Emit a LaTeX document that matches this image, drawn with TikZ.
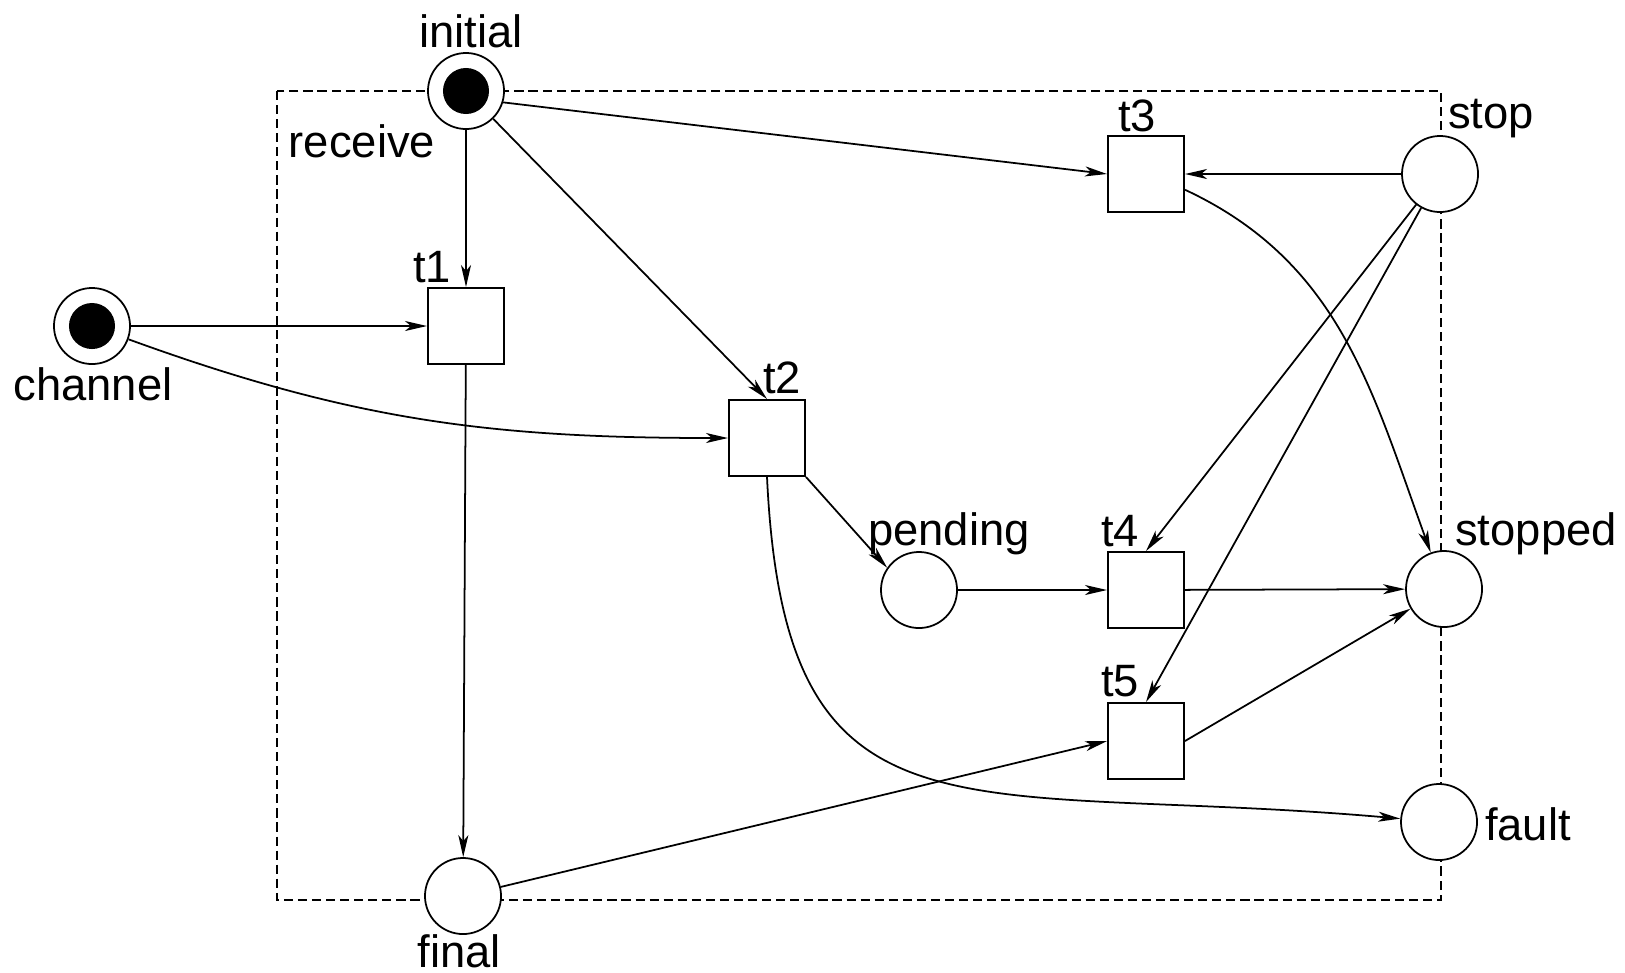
\documentclass[tikz,border=0pt]{standalone}
\usepackage{fontspec}
\setmainfont{Liberation Sans}
\usetikzlibrary{arrows.meta}
\tikzset{
  place/.style={circle, draw, fill=white, line width=0.5pt, minimum size=0.76cm, inner sep=0pt},
  trans/.style={rectangle, draw, fill=white, line width=0.55pt, minimum size=0.76cm, inner sep=0pt},
  token/.style={circle, fill=black, minimum size=0.46cm, inner sep=0pt},
  lbl/.style={anchor=base, inner sep=0pt, font=\fontsize{12.9}{15}\selectfont},
  flow/.style={line width=0.5pt, -{Stealth[length=0.22cm, width=0.1cm, inset=0.06cm]}},
  boundary/.style={line width=0.5pt, dash pattern=on 2.6pt off 1.4pt}
}

\begin{document}
\begin{tikzpicture}[x=0.01cm, y=0.01cm]
		%%%%% START %%%%%
		\useasboundingbox (0,0) rectangle (1625,-972);
		
		\draw[boundary] (277,-91) rectangle (1441,-900);
		
		% places
		\node[place] (initial) at (466,-91) {};
		\node[token] (initialtok) at (initial) {};
		\node[place] (channel) at (92,-326) {};
		\node[token] (channeltok) at (channel) {};
		\node[place] (final) at (463,-896) {};
		\node[place] (pending) at (919,-590) {};
		\node[place] (stop) at (1440,-174) {};
		\node[place] (stopped) at (1444,-589) {};
		\node[place] (fault) at (1439,-822) {};
		
		% transitions
		\node[trans] (t1) at (466,-326) {};
		\node[trans] (t2) at (767,-438) {};
		\node[trans] (t3) at (1146,-174) {};
		\node[trans] (t4) at (1146,-590) {};
		\node[trans] (t5) at (1146,-741) {};
		
		% arcs
		\draw[flow] (initial) -- (t1);
		\draw[flow] (initial) -- (t2.north);
		\draw[flow] (initial.-17) -- (t3.west);
		\draw[flow] (stop) -- (t3);
		\draw[flow] (t3.-22) to[out=-25, in=110] (stopped.110);
		\draw[flow] (stop) -- (t4.north);
		\draw[flow] (stop) -- (t5.north);
		\draw[flow] (channel) -- (t1);
		\draw[flow] (channel.-20) to[out=-20, in=180] (t2.west);
		\draw[flow] (t1) -- (final);
		\draw[flow] (t2.south east) -- (pending.145);
		\draw[flow] (t2.south) .. controls (785,-860) and (960,-780) .. (fault);
		\draw[flow] (pending) -- (t4);
		\draw[flow] (t4) -- (stopped);
		\draw[flow] (t5.east) -- (stopped);
		\draw[flow] (final) -- (t5.west);
		
		% labels
		\node[lbl] (initiallbl) at (471,-47) {initial};
		\node[lbl] (receivelbl) at (362,-157) {receive};
		\node[lbl] (channellbl) at (93,-400) {channel};
		\node[lbl] (finallbl) at (459,-967) {final};
		\node[lbl] (pendinglbl) at (949,-545) {pending};
		\node[lbl] (stoplbl) at (1491,-128) {stop};
		\node[lbl] (stoppedlbl) at (1536,-545) {stopped};
		\node[lbl] (faultlbl) at (1528,-840) {fault};
		\node[lbl] (t1lbl) at (432,-282) {t1};
		\node[lbl] (t2lbl) at (782,-393) {t2};
		\node[lbl] (t3lbl) at (1137,-131) {t3};
		\node[lbl] (t4lbl) at (1120,-546) {t4};
		\node[lbl] (t5lbl) at (1120,-696) {t5};
		
		%%%%% END %%%%%
\end{tikzpicture}
\end{document}
